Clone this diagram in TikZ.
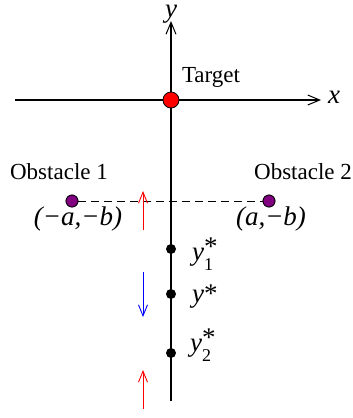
\documentclass[tikz,border=0pt]{standalone}
\usepackage{fontspec}
\setmainfont{Liberation Serif}
\usetikzlibrary{arrows.meta}
\definecolor{obspurple}{RGB}{128,0,128}
\begin{document}
\begin{tikzpicture}[x=1pt,y=-1pt,
  axis/.style={line width=1.1pt,-{Straight Barb[length=12pt,width=10pt,line width=1pt]}},
  move/.style={line width=0.9pt,-{Straight Barb[length=11pt,width=9pt,line width=0.9pt]}},
  dot/.style={circle,fill=black,inner sep=0pt,minimum size=10pt},
  obstacle/.style={circle,draw=black,line width=0.7pt,fill=obspurple,inner sep=0pt,minimum size=12pt},
  target/.style={circle,draw=black,line width=0.8pt,fill=red,inner sep=0pt,minimum size=16pt},
  txt/.style={inner sep=0pt,font=\fontsize{23}{25}\selectfont},
  mth/.style={inner sep=0pt,font=\fontsize{27}{30}\selectfont\itshape}]
\useasboundingbox (0,0) rectangle (353,418);
% axes
\coordinate (ybot) at (171,401);
\coordinate (ytop) at (171,21);
\coordinate (xl) at (15,100);
\coordinate (xr) at (321,100);
\draw[axis] (ybot) -- (ytop);
\draw[axis] (xl) -- (xr);
\node[mth] (xlab) at (334,97) {x};
\node[mth] (ylab) at (171,14) {y};
% obstacles
\node[obstacle] (o1) at (72,201) {};
\node[obstacle] (o2) at (269,201) {};
\draw[line width=0.7pt,dash pattern=on 8pt off 5pt] (o1) -- (o2);
\node[obstacle] at (72,201) {};
\node[obstacle] at (269,201) {};
\node[txt] (ob1) at (59,172) {Obstacle 1};
\node[txt] (ob2) at (303,172) {Obstacle 2};
\node[mth] (l1) at (78,219) {(−a,−b)};
\node[mth] (l2) at (271,219) {(a,−b)};
% target
\node[target] (T) at (171,100) {};
\node[txt] (tl) at (211,77) {Target};
% equilibria
\node[dot] (y1) at (171,249) {};
\node[dot] (ys) at (171,294) {};
\node[dot] (y2) at (171,353) {};
\node[mth,anchor=west] (y1l) at (192,254) {y\makebox[0pt][l]{\upshape\raisebox{5pt}{*}}\raisebox{-10pt}{\upshape\fontsize{18}{18}\selectfont 1}};
\node[mth,anchor=west] (ysl) at (192,297) {y\upshape*};
\node[mth,anchor=west] (y2l) at (190,345) {y\makebox[0pt][l]{\upshape\raisebox{5pt}{*}}\raisebox{-10pt}{\upshape\fontsize{18}{18}\selectfont 2}};
% motion arrows
\coordinate (r1a) at (143,230); \coordinate (r1b) at (143,191);
\coordinate (ba) at (143,272); \coordinate (bb) at (143,317);
\coordinate (r2a) at (143,409); \coordinate (r2b) at (143,370);
\draw[move,red] (r1a) -- (r1b);
\draw[move,blue] (ba) -- (bb);
\draw[move,red] (r2a) -- (r2b);
\end{tikzpicture}
\end{document}
